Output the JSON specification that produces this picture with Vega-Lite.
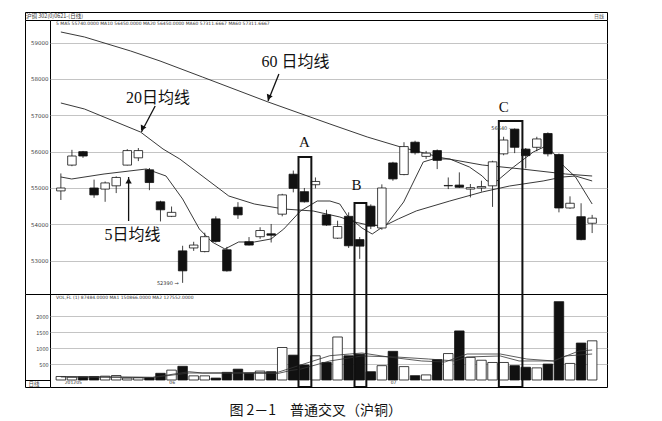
{
  "$schema": "https://vega.github.io/schema/vega-lite/v6.json",
  "background": "white",
  "padding": {"left": 24, "top": 11, "right": 0, "bottom": 0},
  "spacing": 0,
  "bounds": "flush",
  "config": {"view": {"stroke": "black", "strokeWidth": 1}},
  "title": {"text": "图 2－1　普通交叉（沪铜）", "orient": "bottom", "anchor": "middle", "offset": 16, "fontSize": 14, "fontWeight": "normal", "font": "Noto Sans CJK SC", "color": "#111"},
  "datasets": {
    "k": [
      {"i":1,"o":54920,"h":55400,"l":54670,"c":55000,"v":110},
      {"i":2,"o":55630,"h":56050,"l":55600,"c":55880,"v":90},
      {"i":3,"o":56000,"h":56020,"l":55830,"c":55880,"v":100},
      {"i":4,"o":55000,"h":55230,"l":54730,"c":54810,"v":110},
      {"i":5,"o":54970,"h":55180,"l":54620,"c":55140,"v":120},
      {"i":6,"o":55060,"h":55320,"l":54860,"c":55290,"v":140},
      {"i":7,"o":55630,"h":56070,"l":55620,"c":56030,"v":60},
      {"i":8,"o":55830,"h":56100,"l":55740,"c":56030,"v":70},
      {"i":9,"o":55500,"h":55550,"l":54940,"c":55150,"v":70},
      {"i":10,"o":54620,"h":54650,"l":54080,"c":54400,"v":210},
      {"i":11,"o":54220,"h":54490,"l":54200,"c":54330,"v":310},
      {"i":12,"o":53270,"h":53410,"l":52390,"c":52720,"v":430},
      {"i":13,"o":53350,"h":53520,"l":53270,"c":53430,"v":130},
      {"i":14,"o":53250,"h":53770,"l":53230,"c":53660,"v":130},
      {"i":15,"o":54150,"h":54220,"l":53500,"c":53530,"v":60},
      {"i":16,"o":53300,"h":53380,"l":52700,"c":52720,"v":240},
      {"i":17,"o":54470,"h":54610,"l":54150,"c":54260,"v":340},
      {"i":18,"o":53520,"h":53650,"l":53420,"c":53430,"v":210},
      {"i":19,"o":53660,"h":53920,"l":53600,"c":53830,"v":280},
      {"i":20,"o":53740,"h":54010,"l":53500,"c":53700,"v":260},
      {"i":21,"o":54280,"h":54840,"l":54220,"c":54810,"v":1020},
      {"i":22,"o":55380,"h":55480,"l":54880,"c":54990,"v":780},
      {"i":23,"o":54900,"h":55000,"l":54600,"c":54620,"v":470},
      {"i":24,"o":55090,"h":55290,"l":54990,"c":55180,"v":760},
      {"i":25,"o":54260,"h":54400,"l":53960,"c":53980,"v":550},
      {"i":26,"o":53620,"h":54100,"l":53600,"c":53940,"v":1350},
      {"i":27,"o":54220,"h":54330,"l":53350,"c":53410,"v":760},
      {"i":28,"o":53580,"h":53650,"l":53050,"c":53400,"v":810},
      {"i":29,"o":54500,"h":54550,"l":53870,"c":53950,"v":260},
      {"i":30,"o":53900,"h":55100,"l":53850,"c":55000,"v":450},
      {"i":31,"o":55690,"h":55720,"l":55200,"c":55250,"v":900},
      {"i":32,"o":55370,"h":56260,"l":55350,"c":56140,"v":420},
      {"i":33,"o":56260,"h":56300,"l":55920,"c":55970,"v":135},
      {"i":34,"o":55870,"h":56020,"l":55800,"c":55960,"v":160},
      {"i":35,"o":56030,"h":56060,"l":55520,"c":55760,"v":640},
      {"i":36,"o":55060,"h":55290,"l":54970,"c":55070,"v":830},
      {"i":37,"o":55080,"h":55430,"l":55000,"c":55020,"v":1540},
      {"i":38,"o":54970,"h":55110,"l":54740,"c":55010,"v":710},
      {"i":39,"o":55000,"h":55200,"l":54900,"c":55040,"v":620},
      {"i":40,"o":55060,"h":55750,"l":54480,"c":55720,"v":550},
      {"i":41,"o":55940,"h":56410,"l":55900,"c":56320,"v":550},
      {"i":42,"o":56620,"h":56640,"l":55960,"c":56120,"v":450},
      {"i":43,"o":56070,"h":56100,"l":55540,"c":55890,"v":400},
      {"i":44,"o":56120,"h":56410,"l":56010,"c":56350,"v":380},
      {"i":45,"o":56500,"h":56530,"l":55870,"c":55940,"v":500},
      {"i":46,"o":55920,"h":55950,"l":54330,"c":54450,"v":2460},
      {"i":47,"o":54450,"h":54770,"l":54430,"c":54580,"v":520},
      {"i":48,"o":54210,"h":54580,"l":53560,"c":53580,"v":1160},
      {"i":49,"o":54030,"h":54260,"l":53760,"c":54170,"v":1230}
    ],
    "ma60": [
      {"i":1,"p":59293},{"i":3.13,"p":59156},{"i":7.3,"p":58770},{"i":9.96,"p":58495},{"i":13.78,"p":58055},
      {"i":19.72,"p":57367},{"i":25.31,"p":56761},{"i":28.68,"p":56404},{"i":31.7,"p":56128},{"i":35.52,"p":55826},
      {"i":39.07,"p":55633},{"i":42.61,"p":55523},{"i":46.6,"p":55385},{"i":49,"p":55330}
    ],
    "ma20": [
      {"i":1,"p":57339},{"i":3.13,"p":57174},{"i":8.19,"p":56541},{"i":10.23,"p":56073},{"i":11.74,"p":55798},
      {"i":16.17,"p":54780},{"i":18.48,"p":54560},{"i":21.14,"p":54422},{"i":23.8,"p":54367},{"i":26.2,"p":54202},
      {"i":27.53,"p":54064},{"i":28.8,"p":53980},{"i":30.19,"p":53954},{"i":31.5,"p":54150},{"i":33.12,"p":54370},
      {"i":36.14,"p":54642},{"i":39.07,"p":54890},{"i":41.55,"p":55055},{"i":44.57,"p":55193},{"i":46.34,"p":55303},
      {"i":47.5,"p":55330},{"i":49,"p":55193}
    ],
    "ma5": [
      {"i":1,"p":55303},{"i":1.98,"p":55248},{"i":4.9,"p":55385},{"i":8.72,"p":55523},{"i":10.5,"p":55330},
      {"i":12,"p":54697},{"i":13.51,"p":53872},{"i":14.66,"p":53514},{"i":15.82,"p":53321},{"i":17.06,"p":53514},
      {"i":18.48,"p":53514},{"i":19.99,"p":53597},{"i":21.14,"p":53872},{"i":22.65,"p":54367},{"i":24.16,"p":54642},
      {"i":25.31,"p":54642},{"i":26.2,"p":54560},{"i":26.91,"p":54229},{"i":28.2,"p":53900},{"i":29.13,"p":53734},
      {"i":30.46,"p":54009},{"i":31.97,"p":54615},{"i":33.74,"p":55716},{"i":34.63,"p":55798},{"i":36.14,"p":55798},
      {"i":37.91,"p":55578},{"i":39.07,"p":55330},{"i":39.5,"p":55193},{"i":40.4,"p":55193},{"i":41.9,"p":55578},
      {"i":43.68,"p":55991},{"i":44.66,"p":56130},{"i":45.4,"p":56000},{"i":46.43,"p":55605},{"i":47.5,"p":55303},
      {"i":49,"p":54560}
    ],
    "vma1": [
      {"i":1,"v":110},{"i":9.3,"v":85},{"i":12.6,"v":260},{"i":13.8,"v":220},{"i":20.6,"v":242},{"i":25.3,"v":763},
      {"i":27.1,"v":816},{"i":28.2,"v":848},{"i":30.6,"v":722},{"i":33.6,"v":597},{"i":35.7,"v":565},{"i":37.7,"v":816},
      {"i":40.7,"v":816},{"i":43.1,"v":659},{"i":45.5,"v":597},{"i":46.6,"v":754},{"i":49,"v":816}
    ],
    "vma2": [
      {"i":1,"v":94},{"i":9.3,"v":78},{"i":12.6,"v":220},{"i":20.6,"v":204},{"i":21.8,"v":300},{"i":22.7,"v":345},
      {"i":25.3,"v":597},{"i":28.2,"v":754},{"i":31.3,"v":722},{"i":34.2,"v":659},{"i":36.6,"v":597},{"i":37.7,"v":722},
      {"i":40.7,"v":754},{"i":42.4,"v":597},{"i":45.5,"v":597},{"i":47.8,"v":910},{"i":49,"v":942}
    ],
    "boxes": [
      {"k":"A","x1":22.47,"x2":23.63,"top":55853},
      {"k":"B","x1":27.53,"x2":28.6,"top":54587},
      {"k":"C","x1":40.57,"x2":42.7,"top":56844}
    ],
    "cn": [
      {"t":"60 日均线","i":22.2,"p":58468},
      {"t":"20日均线","i":9.78,"p":57477},
      {"t":"5日均线","i":7.48,"p":53707}
    ],
    "letters": [
      {"t":"A","i":23.0,"p":56266},
      {"t":"B","i":27.71,"p":55083},
      {"t":"C","i":41.02,"p":57229}
    ],
    "arrows": [
      {"i":20.7,"p":58137,"i2":19.72,"p2":57394},
      {"i":9.52,"p":57257,"i2":8.28,"p2":56541},
      {"i":7.12,"p":54092,"i2":7.12,"p2":55303}
    ],
    "dates": [
      {"t":"201205","i":1.35},
      {"t":"06","i":10.8},
      {"t":"07","i":30.8}
    ]
  },
  "vconcat": [
    {
      "width": 557,
      "height": 8,
      "view": {"stroke": null},
      "data": {"values": [{"t": "沪铜 302(0)0621-(日线)", "r": "日线"}]},
      "resolve": {"axis": {"y": "independent"}},
      "layer": [
        {
          "mark": {"type": "text", "align": "left", "baseline": "middle", "fontSize": 5.5, "font": "Noto Sans CJK SC", "dx": -24, "color": "#333"},
          "encoding": {
            "x": {"datum": 0, "type": "quantitative", "scale": {"domain": [0, 1]},
              "axis": {"orient": "top", "title": null, "labels": false, "ticks": false, "grid": false, "domain": true, "domainColor": "black", "domainWidth": 1}},
            "y": {"datum": 0.5, "type": "quantitative", "scale": {"domain": [0, 1]},
              "axis": {"orient": "left", "offset": 25, "title": null, "values": [0, 1], "tickCount": 10, "labels": false,
                "domain": true, "domainColor": "black", "domainWidth": 1, "ticks": true, "tickSize": -25, "tickColor": "black", "tickWidth": 1, "grid": false}},
            "text": {"field": "t"}
          }
        },
        {
          "mark": {"type": "text", "align": "right", "baseline": "middle", "fontSize": 5, "font": "Noto Sans CJK SC", "dx": -3, "color": "#555"},
          "encoding": {
            "x": {"datum": 1, "type": "quantitative"},
            "y": {"datum": 0.5, "type": "quantitative",
              "axis": {"orient": "right", "title": null, "labels": false, "ticks": false, "grid": false, "domain": true, "domainColor": "black", "domainWidth": 1}},
            "text": {"field": "r"}
          }
        }
      ]
    },
    {
      "width": 557,
      "height": 274,
      "layer": [
        {
          "data": {"name": "ma60"},
          "mark": {"type": "line", "color": "#222", "strokeWidth": 0.9},
          "encoding": {
            "x": {"field": "i", "type": "quantitative", "scale": {"domain": [0.47, 49.89], "nice": false, "zero": false}, "axis": null},
            "y": {"field": "p", "type": "quantitative", "scale": {"domain": [52083, 59623], "nice": false, "zero": false},
              "axis": {
                "orient": "left", "offset": 25, "title": null, "format": "d", "tickCount": 20,
                "values": [53000, 54000, 55000, 56000, 57000, 58000, 59000],
                "domain": true, "domainColor": "black", "domainWidth": 1,
                "ticks": false,
                "labelPadding": -23, "labelFontSize": 5.5, "labelColor": "#444", "labelFont": "DejaVu Sans",
                "labelFlush": false, "labelOverlap": false, "labelBound": false,
                "grid": true, "gridColor": "#b5b5b5", "gridWidth": 0.8
              }
            }
          }
        },
        {
          "data": {"name": "ma20"},
          "mark": {"type": "line", "color": "#222", "strokeWidth": 0.9},
          "encoding": {
            "x": {"field": "i", "type": "quantitative", "axis": null},
            "y": {"field": "p", "type": "quantitative"}
          }
        },
        {
          "data": {"name": "ma5"},
          "mark": {"type": "line", "color": "#222", "strokeWidth": 0.9},
          "encoding": {
            "x": {"field": "i", "type": "quantitative", "axis": null},
            "y": {"field": "p", "type": "quantitative"}
          }
        },
        {
          "data": {"name": "k"},
          "mark": {"type": "rule", "color": "#111", "strokeWidth": 0.8},
          "encoding": {
            "x": {"field": "i", "type": "quantitative", "axis": null},
            "y": {"field": "l", "type": "quantitative"},
            "y2": {"field": "h"}
          }
        },
        {
          "data": {"name": "k"},
          "mark": {"type": "bar", "size": 8.5, "stroke": "#111", "strokeWidth": 0.8},
          "encoding": {
            "x": {"field": "i", "type": "quantitative", "axis": null},
            "y": {"field": "o", "type": "quantitative"},
            "y2": {"field": "c"},
            "fill": {"condition": {"test": "datum.c >= datum.o", "value": "white"}, "value": "#111"}
          }
        },
        {
          "data": {"name": "boxes"},
          "mark": {"type": "rect", "clip": true, "fillOpacity": 0, "fill": "white", "stroke": "#111", "strokeWidth": 2},
          "encoding": {
            "x": {"field": "x1", "type": "quantitative", "axis": null},
            "x2": {"field": "x2"},
            "y": {"field": "top", "type": "quantitative"},
            "y2": {"datum": 50000}
          }
        },
        {
          "data": {"name": "cn"},
          "mark": {"type": "text", "fontSize": 16, "font": "Liberation Serif, Noto Sans CJK SC", "color": "#111", "baseline": "middle"},
          "encoding": {
            "x": {"field": "i", "type": "quantitative", "axis": null},
            "y": {"field": "p", "type": "quantitative"},
            "text": {"field": "t"}
          }
        },
        {
          "data": {"name": "letters"},
          "mark": {"type": "text", "fontSize": 15, "font": "Liberation Serif", "color": "#111", "baseline": "middle"},
          "encoding": {
            "x": {"field": "i", "type": "quantitative", "axis": null},
            "y": {"field": "p", "type": "quantitative"},
            "text": {"field": "t"}
          }
        },
        {
          "data": {"name": "arrows"},
          "mark": {"type": "rule", "color": "#111", "strokeWidth": 1.3},
          "encoding": {
            "x": {"field": "i", "type": "quantitative", "axis": null},
            "y": {"field": "p", "type": "quantitative"},
            "x2": {"field": "i2"},
            "y2": {"field": "p2"}
          }
        },
        {
          "data": {"values": [{"i": 19.78, "p": 57490}]},
          "mark": {"type": "point", "shape": "triangle-up", "filled": true, "color": "#111", "size": 40, "angle": 202, "opacity": 1},
          "encoding": {
            "x": {"field": "i", "type": "quantitative", "axis": null},
            "y": {"field": "p", "type": "quantitative"}
          }
        },
        {
          "data": {"values": [{"i": 8.36, "p": 56640}]},
          "mark": {"type": "point", "shape": "triangle-up", "filled": true, "color": "#111", "size": 40, "angle": 208, "opacity": 1},
          "encoding": {
            "x": {"field": "i", "type": "quantitative", "axis": null},
            "y": {"field": "p", "type": "quantitative"}
          }
        },
        {
          "data": {"values": [{"i": 7.12, "p": 55200}]},
          "mark": {"type": "point", "shape": "triangle-up", "filled": true, "color": "#111", "size": 40, "angle": 0, "opacity": 1},
          "encoding": {
            "x": {"field": "i", "type": "quantitative", "axis": null},
            "y": {"field": "p", "type": "quantitative"}
          }
        },
        {
          "data": {"values": [{"t": "56640 -", "i": 42, "p": 56640}, {"t": "52390 →", "i": 12, "p": 52390}]},
          "mark": {"type": "text", "align": "right", "baseline": "middle", "dx": -4, "fontSize": 5, "font": "DejaVu Sans", "color": "#333"},
          "encoding": {
            "x": {"field": "i", "type": "quantitative", "axis": null},
            "y": {"field": "p", "type": "quantitative"},
            "text": {"field": "t"}
          }
        },
        {
          "data": {"values": [{"t": "5  MA5 55740.0000  MA10 56450.0000  MA20 56450.0000  MA60 57311.6667  MA60 57311.6667"}]},
          "mark": {"type": "text", "align": "left", "baseline": "top", "dx": 1, "dy": 1, "fontSize": 4.5, "font": "DejaVu Sans", "color": "#333"},
          "encoding": {
            "x": {"datum": 0.47, "type": "quantitative", "axis": null},
            "y": {"datum": 59623, "type": "quantitative"},
            "text": {"field": "t"}
          }
        }
      ]
    },
    {
      "width": 557,
      "height": 93,
      "layer": [
        {
          "data": {"name": "k"},
          "mark": {"type": "bar", "size": 9.5, "stroke": "#111", "strokeWidth": 0.8},
          "encoding": {
            "x": {"field": "i", "type": "quantitative", "scale": {"domain": [0.47, 49.89], "nice": false, "zero": false}, "axis": null},
            "y": {"field": "v", "type": "quantitative", "scale": {"domain": [-220, 2700], "nice": false, "zero": false},
              "axis": {
                "orient": "left", "offset": 25, "title": null, "format": "d", "tickCount": 20,
                "values": [-220, -110, 0, 500, 1000, 1500, 2000, 2700],
                "domain": true, "domainColor": "black", "domainWidth": 1,
                "ticks": true, "tickSize": -25, "tickColor": "black", "tickWidth": 1,
                "tickOpacity": {"condition": {"test": "datum.value == -220 || datum.value == 0 || datum.value == 2700", "value": 1}, "value": 0},
                "labelExpr": "datum.value == -110 ? '日线' : ((datum.value <= 0 || datum.value > 2500) ? '' : datum.label)",
                "labelPadding": {"condition": {"test": "datum.value == -110", "value": 11}, "value": 2},
                "labelFontSize": {"condition": {"test": "datum.value == -220 || datum.value == 0 || datum.value == 2700", "value": 0}, "value": 5.5},
                "labelColor": "#444", "labelFont": "Noto Sans CJK SC",
                "labelFlush": false, "labelOverlap": false, "labelBound": false,
                "grid": true, "gridColor": "#b5b5b5", "gridWidth": 0.8,
                "gridOpacity": {"condition": {"test": "datum.value >= 500 && datum.value <= 2000", "value": 1}, "value": 0}
              }
            },
            "y2": {"datum": 0},
            "fill": {"condition": {"test": "datum.c >= datum.o", "value": "white"}, "value": "#111"}
          }
        },
        {
          "mark": {"type": "rule", "color": "#111", "strokeWidth": 1},
          "encoding": {"y": {"datum": 0, "type": "quantitative"}}
        },
        {
          "data": {"name": "vma1"},
          "mark": {"type": "line", "color": "#333", "strokeWidth": 0.8},
          "encoding": {
            "x": {"field": "i", "type": "quantitative", "axis": null},
            "y": {"field": "v", "type": "quantitative"}
          }
        },
        {
          "data": {"name": "vma2"},
          "mark": {"type": "line", "color": "#333", "strokeWidth": 0.8},
          "encoding": {
            "x": {"field": "i", "type": "quantitative", "axis": null},
            "y": {"field": "v", "type": "quantitative"}
          }
        },
        {
          "data": {"name": "boxes"},
          "mark": {"type": "rect", "clip": true, "fillOpacity": 0, "fill": "white", "stroke": "#111", "strokeWidth": 2},
          "encoding": {
            "x": {"field": "x1", "type": "quantitative", "axis": null},
            "x2": {"field": "x2"},
            "y": {"datum": 5000, "type": "quantitative"},
            "y2": {"datum": -220}
          }
        },
        {
          "data": {"name": "dates"},
          "mark": {"type": "text", "align": "left", "baseline": "middle", "fontSize": 4.5, "font": "DejaVu Sans", "color": "#333"},
          "encoding": {
            "x": {"field": "i", "type": "quantitative", "axis": null},
            "y": {"datum": -110, "type": "quantitative"},
            "text": {"field": "t"}
          }
        },
        {
          "data": {"values": [{"t": "VOL,FL (1) 87484.0000  MA1 150866.0000  MA2 127552.0000"}]},
          "mark": {"type": "text", "align": "left", "baseline": "top", "dx": 1, "dy": 1, "fontSize": 4.5, "font": "DejaVu Sans", "color": "#333"},
          "encoding": {
            "x": {"datum": 0.47, "type": "quantitative", "axis": null},
            "y": {"datum": 2700, "type": "quantitative"},
            "text": {"field": "t"}
          }
        }
      ]
    }
  ]
}
